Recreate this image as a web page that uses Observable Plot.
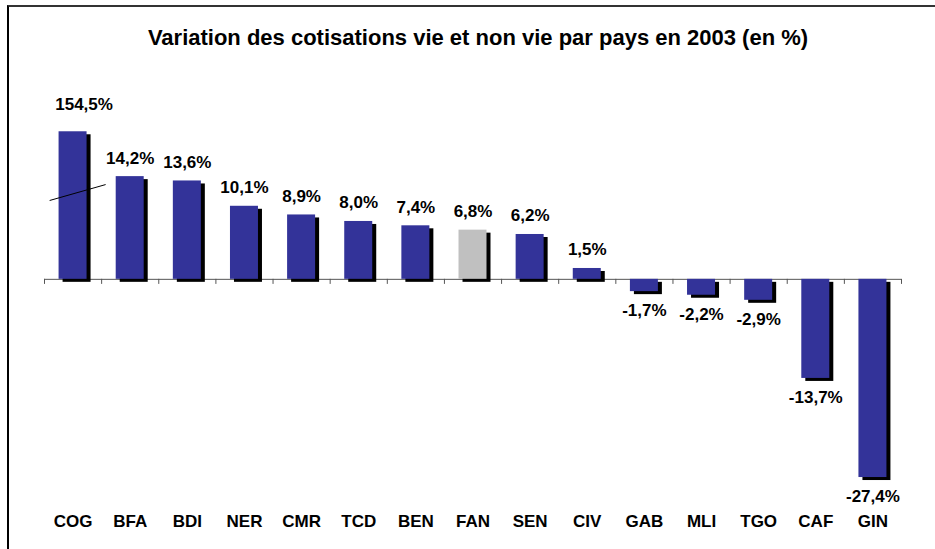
<!DOCTYPE html>
<html>
<head>
<meta charset="utf-8">
<script src="https://cdn.jsdelivr.net/npm/d3@7"></script>
<script src="https://cdn.jsdelivr.net/npm/@observablehq/plot@0.6"></script>
<style>
  html, body { margin: 0; padding: 0; background: #fff; }
  #wrap { position: relative; width: 935px; height: 549px; overflow: hidden; font-family: "Liberation Sans", Arial, sans-serif; }
  #frame { position: absolute; left: 7px; top: 5px; width: 2000px; height: 2000px; border-top: 2px solid #333; border-left: 2px solid #000; }
  #title { position: absolute; left: 0; top: 27px; width: 935px; padding-left: 21px; box-sizing: border-box; text-align: center;
           font-weight: bold; font-size: 22px; line-height: 22px; color: #000; white-space: nowrap; }
  #chart { position: absolute; left: 0; top: 70px; }
</style>
</head>
<body>
<div id="wrap">
  <div id="frame"></div>
  <div id="title">Variation des cotisations vie et non vie par pays en 2003 (en %)</div>
  <div id="chart"></div>
</div>
<script>
// ---- data ----
const countries = ["COG","BFA","BDI","NER","CMR","TCD","BEN","FAN","SEN","CIV","GAB","MLI","TGO","CAF","GIN"];
const variation = [154.5, 14.2, 13.6, 10.1, 8.9, 8.0, 7.4, 6.8, 6.2, 1.5, -1.7, -2.2, -2.9, -13.7, -27.4];
const highlighted = ["FAN"];
// broken-axis cap (bars above this value are truncated)
const axisBreak = 20.4;
// break marker across the truncated bar
const breakMarker = [{x1: -0.41, y1: 10.9, x2: 0.57, y2: 13.1}];

const data = countries.map((c, i) => ({
  country: c,
  i,
  value: variation[i],
  shown: Math.min(variation[i], axisBreak),
  capped: variation[i] > axisBreak,
  highlight: highlighted.includes(c)
}));
const boundaries = d3.range(countries.length + 1).map(k => k - 0.5);
const fmt = v => v.toFixed(1).replace(".", ",") + "%";
const half = 0.245;

const font = {fontFamily: "'Liberation Sans', Arial, sans-serif", fontWeight: "bold", fontSize: 17};

const chart = Plot.plot({
  width: 935,
  height: 479,
  marginLeft: 44,
  marginRight: 34,
  marginTop: 28,
  marginBottom: 17,
  style: {background: "transparent", color: "#000"},
  x: {domain: [-0.5, countries.length - 0.5], axis: null},
  y: {domain: [-35, 25], axis: null},
  marks: [
    Plot.ruleY([0], {x1: -0.5, x2: countries.length - 0.5, stroke: "#555", strokeWidth: 1}),
    Plot.ruleX(boundaries, {y1: 0, y2: -0.7, stroke: "#555", strokeWidth: 1}),
    // shadow
    Plot.rectY(data, {x1: d => d.i - half, x2: d => d.i + half, y1: 0, y2: "shown", fill: "#000", dx: 4, dy: 3}),
    // bars
    Plot.rectY(data, {x1: d => d.i - half, x2: d => d.i + half, y1: 0, y2: "shown",
      fill: d => d.highlight ? "#C0C0C0" : "#333399"}),
    // break marker
    Plot.link(breakMarker, {x1: "x1", y1: "y1", x2: "x2", y2: "y2", stroke: "#000", strokeWidth: 1}),
    // value labels
    Plot.text(data.filter(d => !d.capped && d.value >= 0), {x: "i", y: "shown", text: d => fmt(d.value), dy: -18.5, ...font}),
    Plot.text(data.filter(d => d.value < 0), {x: "i", y: "shown", text: d => fmt(d.value), dy: 19, ...font}),
    Plot.text(data.filter(d => d.capped), {x: "i", y: "shown", text: d => fmt(d.value), dy: -27, dx: 11, ...font}),
    // category labels
    Plot.text(data, {x: "i", frameAnchor: "bottom", text: "country", dy: -6, ...font})
  ]
});
document.getElementById("chart").appendChild(chart);
</script>
</body>
</html>
